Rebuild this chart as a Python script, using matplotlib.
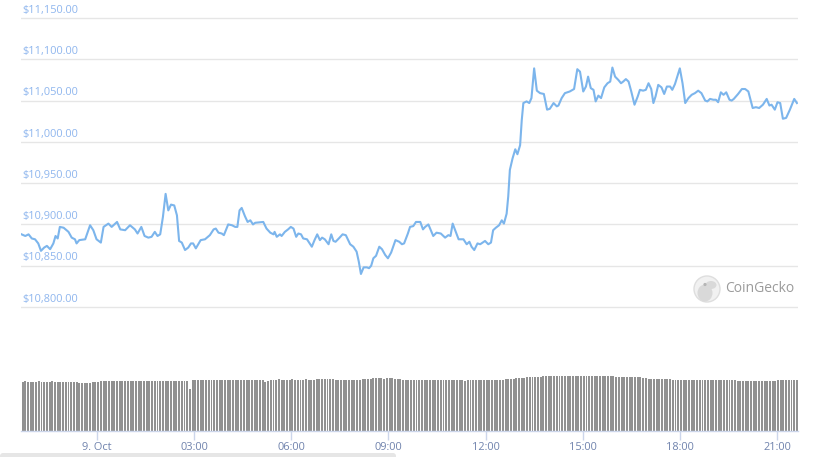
import numpy as np
import matplotlib
matplotlib.use("Agg")
import matplotlib.pyplot as plt
from matplotlib.patches import Circle, Ellipse, FancyBboxPatch

plt.rcParams['font.family'] = ['Open Sans', 'DejaVu Sans']

# ---- data: minutes relative to 9 Oct 00:00, BTC price in USD ----
minutes = [-140, -133, -127, -121, -115, -109, -104, -98, -93, -87, -81, -77, -73, -69, -62,
           -53, -47, -41, -38, -33, -22, -13, -7, -1, 7, 12, 21, 27, 37, 43, 52, 61, 70, 75,
           82, 88, 95, 101, 107, 112, 117, 122, 127, 132, 137, 143, 148, 152, 157, 163, 169,
           174, 178, 183, 192, 200, 209, 216, 220, 225, 231, 235, 243, 250, 256, 260, 264,
           268, 274, 279, 284, 289, 293, 308, 314, 321, 327, 329, 333, 339, 342, 348, 354,
           359, 364, 369, 373, 378, 382, 389, 393, 398, 403, 408, 413, 417, 422, 429, 434,
           438, 442, 448, 455, 461, 469, 475, 481, 485, 489, 494, 500, 504, 508, 512, 517,
           523, 528, 534, 539, 545, 553, 560, 565, 569, 576, 580, 586, 591, 599, 604, 608,
           614, 623, 629, 637, 645, 651, 655, 659, 667, 670, 679, 685, 690, 694, 699, 705,
           710, 719, 725, 730, 734, 739, 745, 750, 754, 759, 762, 765, 770, 775, 779, 784,
           787, 790, 796, 801, 805, 810, 815, 821, 828, 834, 839, 846, 852, 855, 861, 867,
           876, 884, 890, 895, 901, 906, 910, 915, 920, 924, 929, 934, 940, 946, 951, 955,
           960, 966, 971, 975, 980, 985, 990, 996, 1002, 1006, 1012, 1017, 1022, 1027, 1031,
           1035, 1040, 1046, 1051, 1056, 1062, 1066, 1071, 1080, 1085, 1090, 1096, 1102,
           1108, 1114, 1120, 1127, 1131, 1136, 1142, 1147, 1151, 1156, 1161, 1166, 1172,
           1176, 1180, 1188, 1195, 1201, 1207, 1215, 1221, 1227, 1234, 1241, 1246, 1250,
           1256, 1261, 1266, 1271, 1277, 1284, 1292, 1297]
prices = [10888, 10886, 10888, 10883, 10882, 10877, 10868, 10872, 10874, 10870, 10877, 10886,
          10883, 10897, 10896, 10891, 10884, 10882, 10877, 10881, 10882, 10899, 10893, 10882,
          10878, 10897, 10901, 10897, 10903, 10894, 10893, 10899, 10894, 10889, 10897, 10886,
          10884, 10885, 10891, 10886, 10888, 10909, 10937, 10917, 10924, 10923, 10911, 10880,
          10878, 10869, 10872, 10877, 10877, 10871, 10881, 10882, 10887, 10894, 10895, 10890,
          10889, 10887, 10900, 10899, 10897, 10897, 10917, 10920, 10910, 10903, 10905, 10900,
          10902, 10903, 10895, 10890, 10888, 10891, 10885, 10888, 10886, 10891, 10894, 10897,
          10895, 10885, 10889, 10888, 10883, 10882, 10878, 10873, 10881, 10888, 10881, 10884,
          10882, 10876, 10888, 10880, 10879, 10883, 10888, 10887, 10876, 10873, 10867, 10855,
          10840, 10848, 10848, 10847, 10850, 10859, 10862, 10873, 10870, 10863, 10859, 10866,
          10881, 10879, 10876, 10877, 10889, 10897, 10898, 10903, 10903, 10894, 10897, 10900,
          10886, 10890, 10889, 10884, 10887, 10886, 10901, 10887, 10882, 10882, 10876, 10879,
          10873, 10869, 10877, 10876, 10880, 10876, 10878, 10893, 10896, 10899, 10905, 10901,
          10913, 10934, 10966, 10980, 10991, 10985, 10996, 11026, 11047, 11049, 11047, 11053,
          11089, 11062, 11059, 11058, 11039, 11040, 11047, 11043, 11044, 11053, 11059, 11061,
          11064, 11088, 11085, 11061, 11067, 11079, 11065, 11063, 11049, 11056, 11053, 11066,
          11071, 11073, 11090, 11079, 11075, 11071, 11073, 11076, 11073, 11061, 11045, 11055,
          11063, 11062, 11063, 11071, 11064, 11047, 11055, 11069, 11066, 11058, 11067, 11067,
          11063, 11070, 11089, 11071, 11047, 11053, 11057, 11059, 11062, 11059, 11050, 11049,
          11052, 11051, 11051, 11048, 11060, 11057, 11060, 11051, 11050, 11052, 11058, 11064,
          11064, 11061, 11041, 11042, 11041, 11045, 11052, 11044, 11045, 11039, 11048, 11047,
          11028, 11029, 11039, 11052, 11047]

# 24h volume (billion USD), one bar per 5 minutes
volumes = [28.2, 28.3, 28.2, 28.2, 28.1, 28.2, 28.3, 28.2, 28.2, 28.1, 28.2, 28.3, 28.2, 28.2,
           28.1, 28.0, 27.9, 28.0, 28.1, 28.2, 28.1,
           27.6, 27.5, 27.6, 27.7, 27.6, 27.8, 27.9,
           28.2, 28.4, 28.5, 28.4, 28.4, 28.3, 28.4, 28.5, 28.4, 28.3, 28.4, 28.4, 28.5, 28.4,
           28.3, 28.4, 28.4, 28.5, 28.4, 28.3, 28.4, 28.4, 28.5, 28.4, 28.3, 28.4, 28.4, 28.5,
           28.4, 28.3, 28.4, 28.5, 28.4, 28.3,
           24.0,
           29.0, 29.1, 29.1, 29.2, 29.1, 29.0, 29.1, 29.1, 29.2, 29.1, 29.0, 29.1, 29.1, 29.2,
           29.1, 29.0, 29.1, 29.1, 29.2, 29.1, 29.0, 29.1, 29.1, 29.2, 29.1, 29.0, 29.1,
           28.0, 28.3,
           29.3, 29.4, 29.4, 29.5, 29.4, 29.3, 29.4, 29.4, 29.5, 29.4, 29.3, 29.4, 29.4, 29.5,
           29.4, 29.3, 29.4, 29.5,
           29.8, 29.9, 30.0, 29.9, 29.8, 29.7,
           29.3, 29.4, 29.3, 29.2, 29.3, 29.4, 29.3, 29.2, 29.3, 29.4, 29.5, 29.6, 29.8,
           30.0, 30.1, 30.2, 30.1, 30.1, 30.0, 30.1, 30.2, 30.1, 30.0, 29.8, 29.5,
           29.2, 29.1, 29.1, 29.0, 29.1, 29.2, 29.1, 29.1, 29.0, 29.1, 29.2, 29.1, 29.1, 29.0,
           29.1, 29.2, 29.1, 29.1, 29.0, 29.1, 29.2, 29.1, 28.9, 28.8, 29.0, 29.1, 29.1, 29.0,
           29.1, 29.2, 29.1, 29.1, 29.0, 29.1, 29.2, 29.1, 29.1, 29.3, 29.5, 29.7,
           29.9, 30.0, 30.1, 30.2, 30.3, 30.4, 30.6, 30.8,
           30.9, 31.0, 31.0, 31.1, 31.2, 31.3, 31.4,
           31.5, 31.6, 31.6, 31.7, 31.6, 31.5, 31.6, 31.6, 31.7, 31.6, 31.5, 31.6, 31.6, 31.7,
           31.6, 31.5, 31.6, 31.6, 31.7, 31.6, 31.5, 31.4, 31.3, 31.2, 31.1,
           31.0, 31.0, 31.1, 31.0, 30.9, 31.0, 31.1, 31.0, 30.8,
           30.5, 30.2, 30.0, 29.8, 29.7, 29.7, 29.6, 29.7, 29.7, 29.6, 29.5, 29.4, 29.3,
           29.2, 29.1, 29.1, 29.0, 29.1, 29.2, 29.1, 29.1, 29.0, 29.1, 29.2, 29.1, 29.1, 29.0,
           29.1, 29.2, 29.1, 29.1, 29.0, 29.0, 28.9, 28.9,
           28.7, 28.6, 28.6, 28.5, 28.6, 28.7, 28.6, 28.6, 28.5, 28.6, 28.7, 28.6, 28.6, 28.7,
           28.8,
           28.9, 29.0, 29.1, 29.0, 28.9, 29.0, 29.1, 29.0]

y_ticks = [10800, 10850, 10900, 10950, 11000, 11050, 11100, 11150]
y_tick_labels = ['$10,800.00', '$10,850.00', '$10,900.00', '$10,950.00',
                 '$11,000.00', '$11,050.00', '$11,100.00', '$11,150.00']
x_tick_hours = [0, 3, 6, 9, 12, 15, 18, 21]
x_tick_labels = ['9. Oct', '03:00', '06:00', '09:00', '12:00', '15:00', '18:00', '21:00']

# ---- figure ----
W, H = 820, 457
fig = plt.figure(figsize=(W / 100, H / 100), dpi=100)
fig.patch.set_facecolor('white')

x_min, x_max = -141, 1299
LINE = '#7cb5ec'
GRID = '#e6e6e6'

def px_axes(x0, y0, x1, y1):
    return fig.add_axes([x0 / W, 1 - y1 / H, (x1 - x0) / W, (y1 - y0) / H])

# price pane
ax = px_axes(21, 10, 798, 320)
per_px = 350 / 289.0
ax.set_xlim(x_min, x_max)
ax.set_ylim(10800 - 13 * per_px, 11150 + 8 * per_px)
for s in ax.spines.values():
    s.set_visible(False)
ax.set_xticks([])
ax.set_yticks(y_ticks)
ax.tick_params(axis='y', length=0, labelleft=False)
ax.grid(axis='y', color=GRID, linewidth=1.0)
ax.set_axisbelow(True)
ax.plot(minutes, prices, color=LINE, linewidth=1.5, solid_joinstyle='round', zorder=3)
for v, lab in zip(y_ticks, y_tick_labels):
    ax.annotate(lab, xy=(0, v), xycoords=('axes fraction', 'data'),
                xytext=(0.8, 1.6), textcoords='offset points',
                ha='left', va='bottom', fontsize=7.9, color='#8fb6ee')

# volume pane
axv = px_axes(21, 361, 798, 431)
axv.set_xlim(x_min, x_max)
axv.set_ylim(0, 40)
vol_minutes = -138 + 5 * np.arange(len(volumes))
axv.bar(vol_minutes, volumes, width=3.6, color='#919191', linewidth=0)
for k in ['top', 'right', 'left']:
    axv.spines[k].set_visible(False)
axv.spines['bottom'].set_color('#ccd6eb')
axv.spines['bottom'].set_linewidth(1.0)
axv.set_yticks([])
axv.set_xticks([h * 60 for h in x_tick_hours])
axv.set_xticklabels(x_tick_labels)
axv.tick_params(axis='x', length=6.5, width=1.0, color='#ccd6eb', pad=1.5,
                labelsize=7.9, labelcolor='#7083ad')

# decoration overlay (pixel coordinates)
ov = fig.add_axes([0, 0, 1, 1], facecolor='none')
ov.set_xlim(0, W)
ov.set_ylim(H, 0)
ov.axis('off')
ov.add_patch(FancyBboxPatch((0, 453), 396, 8, boxstyle='round,pad=0,rounding_size=3',
                            facecolor='#e6e6e6', edgecolor='none'))
ov.add_patch(Circle((707, 289), 13, facecolor='#f1f1f1', edgecolor='#dedede', linewidth=1))
ov.add_patch(Ellipse((705, 293), 15, 17, facecolor='#d9d9d9', edgecolor='none'))
ov.add_patch(Ellipse((711, 285), 11, 8, facecolor='#d9d9d9', edgecolor='none'))
ov.add_patch(Circle((705, 284.5), 1.6, facecolor='#b5b5b5', edgecolor='none'))
ov.text(725, 289, 'CoinGecko', fontsize=10, color='#9b9b9b', ha='left', va='center')

fig.savefig('out.png', dpi=100, facecolor='white')
